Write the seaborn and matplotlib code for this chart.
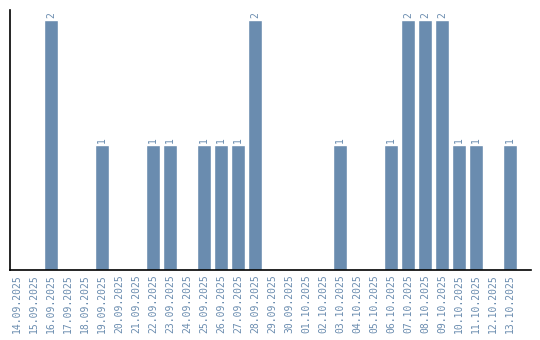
import matplotlib
matplotlib.use("Agg")
import matplotlib.pyplot as plt
import seaborn as sns
import pandas as pd

dates = ["14.09.2025", "15.09.2025", "16.09.2025", "17.09.2025", "18.09.2025",
         "19.09.2025", "20.09.2025", "21.09.2025", "22.09.2025", "23.09.2025",
         "24.09.2025", "25.09.2025", "26.09.2025", "27.09.2025", "28.09.2025",
         "29.09.2025", "30.09.2025", "01.10.2025", "02.10.2025", "03.10.2025",
         "04.10.2025", "05.10.2025", "06.10.2025", "07.10.2025", "08.10.2025",
         "09.10.2025", "10.10.2025", "11.10.2025", "12.10.2025", "13.10.2025"]
counts = [0, 0, 2, 0, 0, 1, 0, 0, 1, 1,
          0, 1, 1, 1, 2, 0, 0, 0, 0, 1,
          0, 0, 1, 2, 2, 2, 1, 1, 0, 1]

df = pd.DataFrame({"date": dates, "count": counts})

sns.set_style("white")
plt.rcParams['font.family'] = ['DejaVu Sans Mono', 'DejaVu Sans']

fig = plt.figure(figsize=(5.4, 3.4), dpi=100)
ax = fig.add_axes([10/540, 70/340, 520.5/540, 260/340])

bar_color = "#6a8caf"
label_color = "#6a8caf"
sns.barplot(data=df, x="date", y="count", color=bar_color, saturation=1,
            width=0.82, ax=ax, order=dates)

ax.set_ylim(0, 2.08)
ax.set_xlim(-0.412, 30.2)
ax.set_xlabel("")
ax.set_ylabel("")
ax.set_yticks([])
ax.tick_params(axis="x", labelrotation=90, labelsize=7, colors=label_color, length=0, pad=3)
for lbl in ax.get_xticklabels():
    lbl.set_color(label_color)

for i, v in enumerate(counts):
    if v > 0:
        ax.text(i, v + 0.02, str(v), rotation=90, ha="center", va="bottom",
                fontsize=7, color=label_color)

for s in ["top", "right"]:
    ax.spines[s].set_visible(False)
for s in ["left", "bottom"]:
    ax.spines[s].set_color("black")
    ax.spines[s].set_linewidth(1.2)

fig.savefig("out.png", dpi=100)
